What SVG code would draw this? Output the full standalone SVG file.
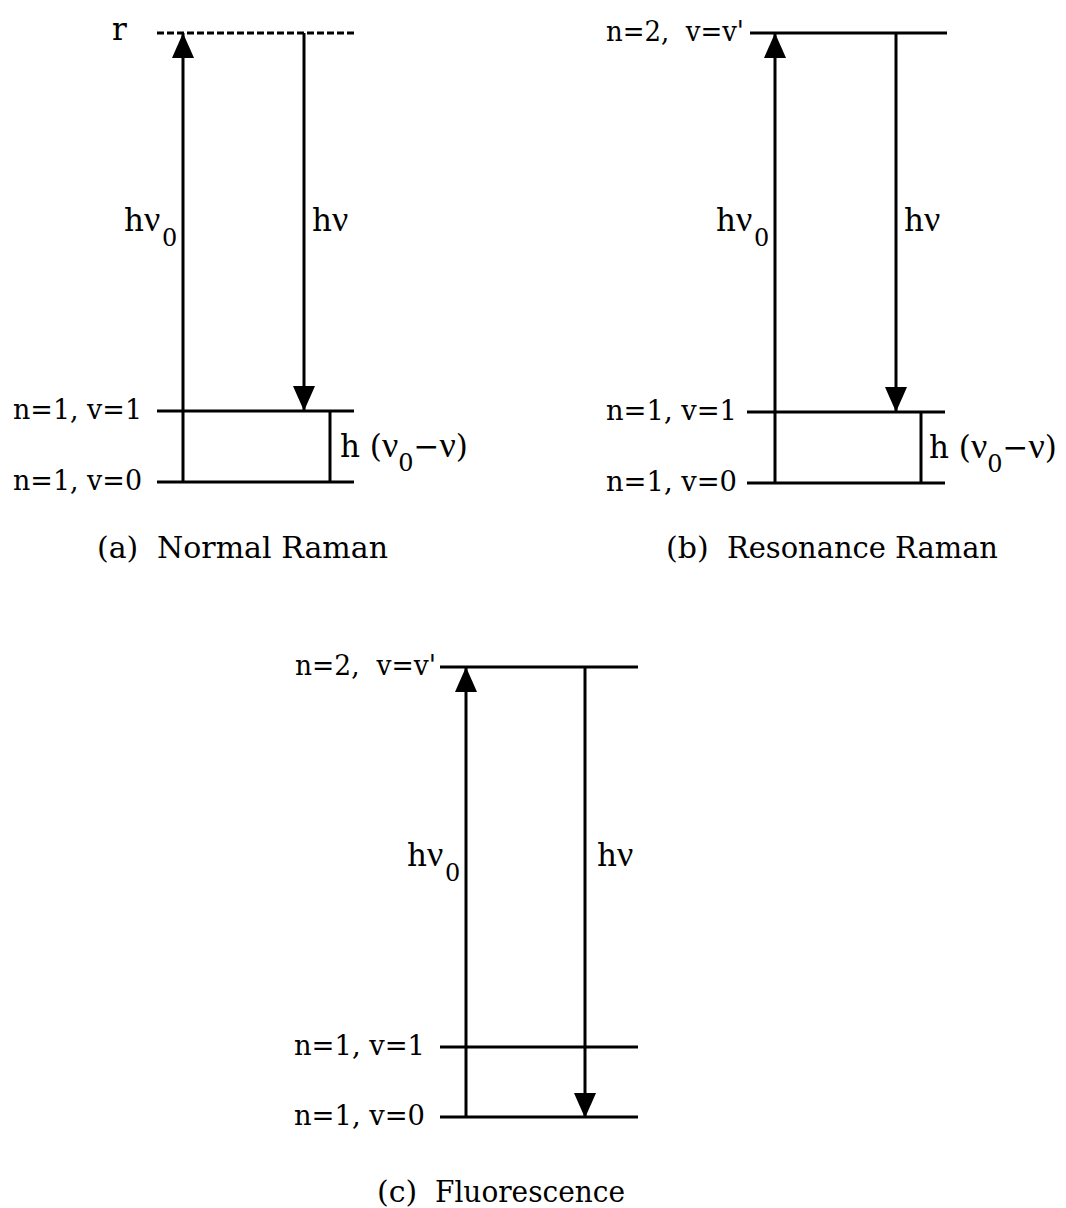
<svg xmlns="http://www.w3.org/2000/svg" width="1066" height="1208" viewBox="0 0 1066 1208">
<style>
text{font-family:"DejaVu Serif","Liberation Serif",serif;fill:#000}
.lvl{font-size:28px}
.cap{font-size:30px}
.hv{font-size:31px}
.sub{font-size:24px}
.nu{font-family:"Liberation Serif",serif;font-size:36px}
.ln{stroke:#000;stroke-width:3;fill:none}
.dash{stroke-dasharray:7 3}
</style>
<defs>
<marker id="ah" markerUnits="userSpaceOnUse" markerWidth="26" markerHeight="24" refX="25" refY="11" orient="auto">
<path d="M0,0 L25,11 L0,22 Z" fill="#000"/>
</marker>
</defs>
<rect width="1066" height="1208" fill="#fff"/>

<g id="panel-a">
<g id="a-level-r"><line class="ln dash" x1="157" y1="33" x2="355" y2="33"/><text x="112" y="40" font-size="31">r</text></g>
<g id="a-level-v1"><line class="ln" x1="157" y1="411" x2="354" y2="411"/><text x="13" y="419" class="lvl" textLength="129" lengthAdjust="spacingAndGlyphs">n=1, v=1</text></g>
<g id="a-level-v0"><line class="ln" x1="157" y1="482" x2="354" y2="482"/><text x="13" y="490" class="lvl" textLength="129" lengthAdjust="spacingAndGlyphs">n=1, v=0</text></g>
<g id="a-caption"><text x="97" y="558" class="cap">(a)</text><text x="157" y="558" class="cap" textLength="231" lengthAdjust="spacingAndGlyphs">Normal Raman</text></g>
</g>

<g id="panel-b">
<g id="b-level-n2"><line class="ln" x1="750" y1="33" x2="947" y2="33"/><text x="606" y="41" class="lvl" xml:space="preserve" textLength="138" lengthAdjust="spacingAndGlyphs">n=2,  v=v'</text></g>
<g id="b-level-v1"><line class="ln" x1="747" y1="412" x2="945" y2="412"/><text x="606" y="420" class="lvl" textLength="131" lengthAdjust="spacingAndGlyphs">n=1, v=1</text></g>
<g id="b-level-v0"><line class="ln" x1="747" y1="483" x2="945" y2="483"/><text x="606" y="491" class="lvl" textLength="131" lengthAdjust="spacingAndGlyphs">n=1, v=0</text></g>
<g id="b-caption"><text x="666" y="558" class="cap">(b)</text><text x="727" y="558" class="cap" textLength="271" lengthAdjust="spacingAndGlyphs">Resonance Raman</text></g>
</g>

<g id="panel-c">
<g id="c-level-n2"><line class="ln" x1="440" y1="667" x2="638" y2="667"/><text x="295" y="675" class="lvl" xml:space="preserve" textLength="141" lengthAdjust="spacingAndGlyphs">n=2,  v=v'</text></g>
<g id="c-level-v1"><line class="ln" x1="440" y1="1047" x2="638" y2="1047"/><text x="294" y="1055" class="lvl" textLength="131" lengthAdjust="spacingAndGlyphs">n=1, v=1</text></g>
<g id="c-level-v0"><line class="ln" x1="440" y1="1117" x2="638" y2="1117"/><text x="294" y="1125" class="lvl" textLength="131" lengthAdjust="spacingAndGlyphs">n=1, v=0</text></g>
<g id="c-caption"><text x="377" y="1202" class="cap">(c)</text><text x="435" y="1202" class="cap" textLength="190" lengthAdjust="spacingAndGlyphs">Fluorescence</text></g>
</g>

<g id="connectors">
<line class="ln" x1="183" y1="482" x2="183" y2="33" marker-end="url(#ah)"/>
<line class="ln" x1="304" y1="33" x2="304" y2="411" marker-end="url(#ah)"/>
<line class="ln" x1="330" y1="411" x2="330" y2="482"/>
<line class="ln" x1="775" y1="483" x2="775" y2="33" marker-end="url(#ah)"/>
<line class="ln" x1="896" y1="33" x2="896" y2="412" marker-end="url(#ah)"/>
<line class="ln" x1="921" y1="412" x2="921" y2="483"/>
<line class="ln" x1="466" y1="1117" x2="466" y2="667" marker-end="url(#ah)"/>
<line class="ln" x1="585" y1="667" x2="585" y2="1118" marker-end="url(#ah)"/>
</g>

<g id="labels">
<text x="124" y="231" class="hv">h<tspan class="nu">ν</tspan></text><text x="162" y="246" class="sub">0</text>
<text x="312" y="231" class="hv">h<tspan class="nu">ν</tspan></text>
<text x="340" y="457" class="hv">h (<tspan class="nu">ν</tspan><tspan class="sub" dy="14">0</tspan><tspan dy="-14">−</tspan><tspan class="nu">ν</tspan>)</text>
<text x="716" y="231" class="hv">h<tspan class="nu">ν</tspan></text><text x="754" y="246" class="sub">0</text>
<text x="904" y="231" class="hv">h<tspan class="nu">ν</tspan></text>
<text x="929" y="458" class="hv">h (<tspan class="nu">ν</tspan><tspan class="sub" dy="14">0</tspan><tspan dy="-14">−</tspan><tspan class="nu">ν</tspan>)</text>
<text x="407" y="866" class="hv">h<tspan class="nu">ν</tspan></text><text x="445" y="881" class="sub">0</text>
<text x="597" y="866" class="hv">h<tspan class="nu">ν</tspan></text>
</g>
</svg>
